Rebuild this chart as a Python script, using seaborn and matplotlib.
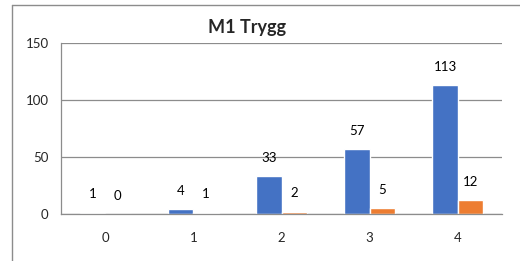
import matplotlib
matplotlib.use("Agg")
import matplotlib.pyplot as plt
import seaborn as sns
import pandas as pd
from matplotlib.lines import Line2D

# values
categories = ["0", "1", "2", "3", "4"]
series_a = [1, 4, 33, 57, 113]
series_b = [0, 1, 2, 5, 12]
y_ticks = [0, 50, 100, 150]

df = pd.DataFrame({
    "kategori": categories * 2,
    "serie": ["A"] * len(categories) + ["B"] * len(categories),
    "antall": series_a + series_b,
})

sns.set_style("white")
plt.rcParams["font.family"] = ["Lato", "DejaVu Sans"]

fig = plt.figure(figsize=(5.2, 2.61), dpi=100)
ax = fig.add_axes([61 / 520, 47 / 261, 441 / 520, 171 / 261])

sns.barplot(data=df, x="kategori", y="antall", hue="serie",
            palette=["#4472C4", "#ED7D31"], width=0.58, gap=0,
            ax=ax, legend=False, saturation=1)

for c in ax.containers:
    ax.bar_label(c, padding=9, fontsize=9.5, color="#000000")

ax.set_ylim(0, 150)
ax.set_yticks(y_ticks)
ax.set_xlim(-0.5, 4.5)
ax.set_xlabel("")
ax.set_ylabel("")
ax.yaxis.grid(True, color="#8c8c8c", linewidth=0.9)
ax.set_axisbelow(True)

ax.set_xticks([i - 0.5 for i in range(6)], minor=True)
ax.tick_params(axis="x", which="major", length=0, pad=13, labelsize=9.5)
ax.tick_params(axis="x", which="minor", length=5, color="#8c8c8c", width=0.9, direction="out")
ax.tick_params(axis="y", length=0, pad=9, labelsize=9.5)

for s in ["top", "right"]:
    ax.spines[s].set_visible(False)
for s in ["left", "bottom"]:
    ax.spines[s].set_color("#8c8c8c")
    ax.spines[s].set_linewidth(0.9)

fig.text(247 / 520, 1 - 27 / 261, "M1 Trygg", ha="center", va="center",
         fontsize=13, fontweight="bold")

# outer chart frame (cut off at right and bottom)
fig.add_artist(Line2D([12 / 520, 12 / 520], [0, 1 - 5 / 261], color="#8c8c8c", linewidth=1))
fig.add_artist(Line2D([12 / 520, 1], [1 - 5 / 261, 1 - 5 / 261], color="#8c8c8c", linewidth=1))

fig.savefig("out.png", dpi=100)
